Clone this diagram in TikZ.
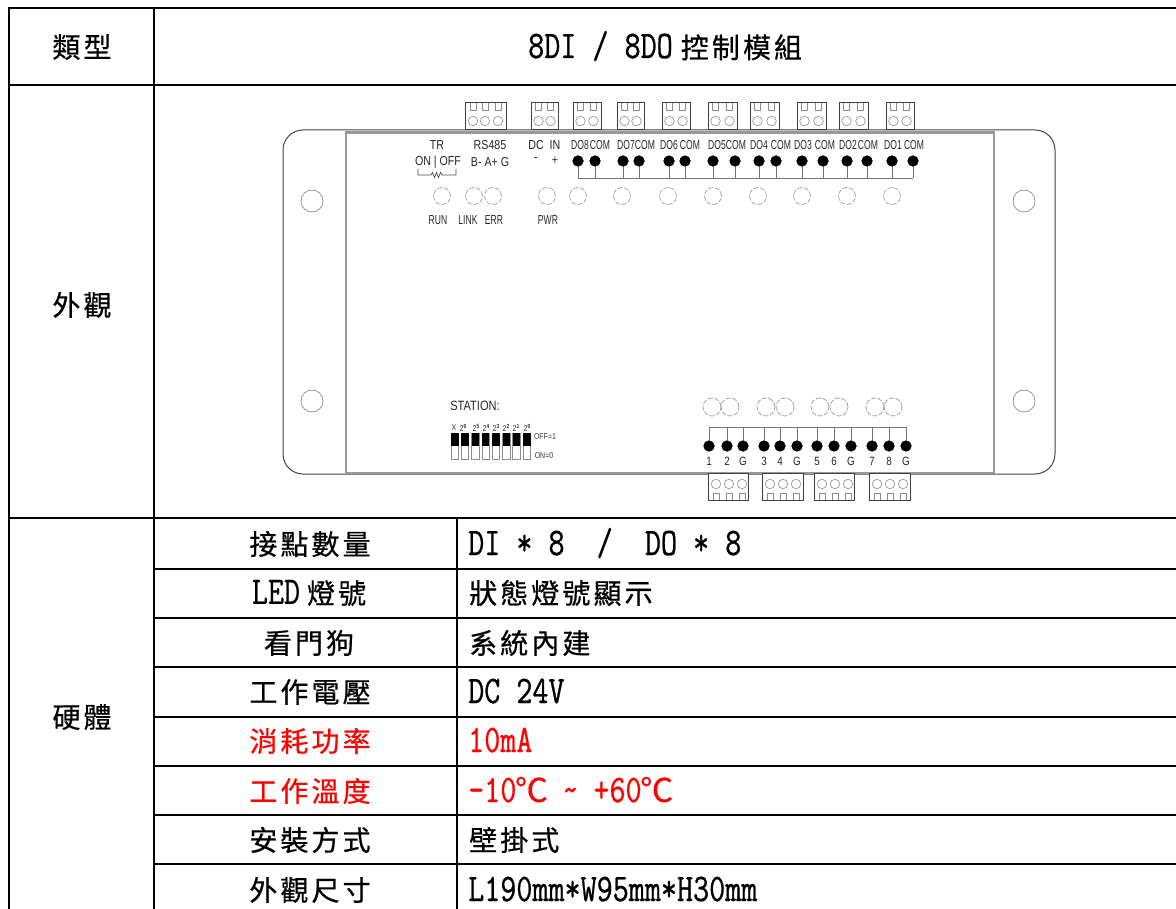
\documentclass[tikz,border=0pt]{standalone}
\usepackage{fontspec}
\newfontfamily\cjkf[LetterSpace=11,FakeBold=0.6]{Noto Sans CJK TC}
\newfontfamily\degf[FakeBold=0.4]{Noto Sans CJK TC}
\newfontfamily\latf[FakeStretch=0.80,FakeBold=0.7]{Latin Modern Mono}
\newfontfamily\armf[FakeStretch=0.82]{Liberation Sans}
\newfontfamily\narf[FakeStretch=0.66]{Liberation Sans}
\newcommand{\tc}[1]{{\cjkf\fontsize{28}{30}\selectfont #1}}
\newcommand{\tl}[1]{{\latf\fontsize{39}{40}\selectfont #1}}
\newcommand{\tdeg}{\makebox[30pt]{\degf\fontsize{33}{33}\selectfont ℃}}
\definecolor{devgray}{HTML}{999999}
\definecolor{devdark}{HTML}{444444}
\definecolor{ledgray}{HTML}{9A9A9A}
\definecolor{pinred}{HTML}{FF0000}
\tikzset{
  tline/.style={line width=2pt,black,line cap=rect},
  tcell/.style={inner sep=0pt,anchor=center},
  tval/.style={inner sep=0pt,anchor=base west},
  tred/.style={text=pinred},
  small/.style={inner sep=0pt,font=\armf\fontsize{13}{14}\selectfont,text=black!85},
  narrow/.style={inner sep=0pt,font=\narf\fontsize{13}{14}\selectfont,text=black!85},
  tiny/.style={inner sep=0pt,font=\armf\fontsize{8.5}{9}\selectfont,text=black!80},
  dot/.style={circle,fill=black,draw=none,minimum size=11pt,inner sep=0pt},
  led/.style={circle,draw=ledgray,dash pattern=on 5pt off 1.6pt,line width=.7pt,minimum size=17pt,inner sep=0pt},
  pin/.style={circle,draw=devgray,line width=.7pt,minimum size=9.5pt,inner sep=0pt},
  hole/.style={circle,draw=devgray,line width=.8pt,minimum size=22pt,inner sep=0pt},
  stem/.style={draw=black!55,line width=1pt},
  cbox/.style={draw=black!75,line width=1pt,fill=white},
  sq/.style={draw=black!45,line width=.7pt},
}
\begin{document}
\begin{tikzpicture}[x=1pt,y=-1pt]
\useasboundingbox (0,0) rectangle (1176,909);
% table grid
\draw[tline] (9,8) -- (1176,8);
\draw[tline] (9,85) -- (1176,85);
\draw[tline] (9,518) -- (1176,518);
\foreach \yy in {569,618,667,717,766,815,864} \draw[tline] (154,\yy) -- (1176,\yy);
\draw[tline] (9,8) -- (9,909);
\draw[tline] (154,8) -- (154,909);
\draw[tline] (457,518) -- (457,909);
% header texts
\node[tcell] (t1) at (82,47) {\tc{類型}};
\node[tval] (t2) at (528,58) {\tl{8DI / 8DO}\hspace{8pt}\tc{控制模組}};
\node[tcell] (t3) at (82,305) {\tc{外觀}};
\node[tcell] (t4) at (82,717) {\tc{硬體}};
% rows
\node[tcell] (r1) at (310,544) {\tc{接點數量}};
\node[tcell] (r2) at (309,593) {\tl{LED}\hspace{7pt}\tc{燈號}};
\node[tcell] (r3) at (309,643) {\tc{看門狗}};
\node[tcell] (r4) at (310,692) {\tc{工作電壓}};
\node[tcell,tred] (r5) at (310,741) {\tc{消耗功率}};
\node[tcell,tred] (r6) at (310,791) {\tc{工作溫度}};
\node[tcell] (r7) at (310,840) {\tc{安裝方式}};
\node[tcell] (r8) at (310,890) {\tc{外觀尺寸}};
\node[tval] (v1) at (468,555) {\tl{DI~*~8~~/~~DO~*~8}};
\node[tcell,anchor=west] (v2) at (469,593) {\tc{狀態燈號顯示}};
\node[tcell,anchor=west] (v3) at (469,643) {\tc{系統內建}};
\node[tval] (v4) at (468,703) {\tl{DC~24V}};
\node[tval,tred] (v5) at (468,752) {\tl{10mA}};
\node[tval,tred] (v6) at (468,802) {\tl{-10}\tdeg\hspace{16pt}\tl{\char`\~}\hspace{15pt}\tl{+60}\tdeg};
\node[tcell,anchor=west] (v7) at (469,840) {\tc{壁掛式}};
\node[tval] (v8) at (468,901) {\tl{L190mm*W95mm*H30mm}};
% device body
\draw[draw=devdark,line width=1pt,rounded corners=20pt] (283,130) rectangle (1055,474);
\draw[draw=devgray,line width=1.6pt] (346,131) -- (346,474);
\draw[draw=devgray,line width=1.6pt] (994,131) -- (994,474);
\draw[draw=devgray,line width=3pt] (346,133) -- (994,133);
\draw[draw=devgray,line width=1.6pt] (346,473) -- (994,473);
\node[hole] (h1) at (312,201) {};
\node[hole] (h2) at (312,401) {};
\node[hole] (h3) at (1024,201) {};
\node[hole] (h4) at (1024,401) {};
% top connectors
\foreach \a/\b in {531/558,573/601,617/644,662/690,708/737,750/779,797/826,839/868,886/914}{
  \draw[cbox] (\a,103) rectangle (\b,130);
  \pgfmathsetmacro{\pa}{\a+7.5}\pgfmathsetmacro{\pb}{\b-7.5}
  \node[pin] at (\pa,121) {};
  \node[pin] at (\pb,121) {};
  \draw[sq] (\pa-3,103) -- (\pa-3,110) -- (\pa+3,110) -- (\pa+3,103);
  \draw[sq] (\pb-3,103) -- (\pb-3,110) -- (\pb+3,110) -- (\pb+3,103);
}
\draw[cbox] (465,103) rectangle (506,130);
\foreach \p in {473,485,498}{
  \node[pin] at (\p,121) {};
  \draw[sq] (\p-3,103) -- (\p-3,110) -- (\p+3,110) -- (\p+3,103);
}
% top labels
\node[small] (lTR) at (437,145) {TR};
\node[small] (lRS) at (490,145) {RS485};
\node[small] (lDC) at (536,145) {DC};
\node[small] (lIN) at (555,145) {IN};
\node[small] (lON) at (438,162) {ON | OFF};
\node[small] (lBA) at (490,162) {B- A+ G};
\node[small] (lmi) at (536,160) {-};
\node[small] (lpl) at (555,161) {+};
\foreach \n/\x in {DO8/580,COM/600,DO7/626,COM/645,DO6/669,COM/690,DO5/717,COM/736,DO4/759,COM/781,DO3/803,COM/825,DO2/848,COM/868,DO1/893,COM/914}
  \node[narrow] at (\x,145) {\n};
\coordinate (busTa) at (578,178.5);
\coordinate (busTb) at (913,178.5);
\draw[stem] (busTa) -- (busTb);
\foreach \x [count=\i] in {578,595,623,639,669,685,713,735,759,776,802,823,847,867,892,913}{
  \node[dot] (dt\i) at (\x,161) {};
  \draw[stem] (dt\i.center) -- (\x,178.5);
  \node[dot] at (\x,161) {};
}
\foreach \x in {442,474,493,547,578,622,668,713,758,802,847,892}
  \node[led] at (\x,196) {};
\node[narrow] (lRUN) at (438,220) {RUN};
\node[narrow] (lLINK) at (468,220) {LINK};
\node[narrow] (lERR) at (494,220) {ERR};
\node[narrow] (lPWR) at (548,220) {PWR};
% TR resistor symbol
\draw[draw=black!70,line width=.7pt] (418,169) -- (418,175) -- (431,175) -- (432.5,172.5) -- (434.5,177.5) -- (436.5,172.5) -- (438.5,177.5) -- (440.5,172.5) -- (442,175) -- (456,175) -- (456,169);
% station
\node[small,font=\armf\fontsize{13.5}{14}\selectfont] (lST) at (475,406) {STATION:};
\node[tiny] at (454,428) {X};
\foreach \x/\e in {463/6,476/5,486/4,496/3,506/2,516/1,527/0}
  \node[tiny] at (\x,428) {2\raisebox{3pt}{\fontsize{6}{6}\selectfont\bfseries\e}};
\foreach \i in {0,...,7}{
  \pgfmathsetmacro{\xa}{451+10.3*\i}
  \draw[draw=black!45,line width=.8pt] (\xa,433) rectangle (\xa+7.5,459);
  \fill[black] (\xa,433) rectangle (\xa+7.5,446);
}
\node[tiny] (lOFF) at (545,437) {OFF=1};
\node[tiny] (lONz) at (544,456) {ON=0};
% bottom terminal block
\foreach \x in {712,730,766,785,820,839,875,893}
  \node[led,minimum size=18pt] at (\x,407) {};
\coordinate (busBa) at (709,427);
\coordinate (busBb) at (906,427);
\draw[stem] (busBa) -- (busBb);
\foreach \x/\n [count=\i] in {709/1,727/2,743/G,764/3,780/4,797/G,817/5,834/6,851/G,872/7,889/8,906/G}{
  \node[dot] (db\i) at (\x,446) {};
  \draw[stem] (\x,427) -- (db\i.center);
  \node[dot] at (\x,446) {};
  \node[narrow,font=\armf\fontsize{12}{13}\selectfont] at (\x,461) {\n};
}
\foreach \a/\b in {708/748,762/803,814/854,869/910}{
  \draw[cbox] (\a,473) rectangle (\b,500);
  \foreach \o in {8,21,34}{
    \pgfmathsetmacro{\pp}{\a+\o}
    \node[pin] at (\pp,484) {};
    \draw[sq] (\pp-3,500) -- (\pp-3,493) -- (\pp+3,493) -- (\pp+3,500);
  }
}
\end{tikzpicture}
\end{document}
